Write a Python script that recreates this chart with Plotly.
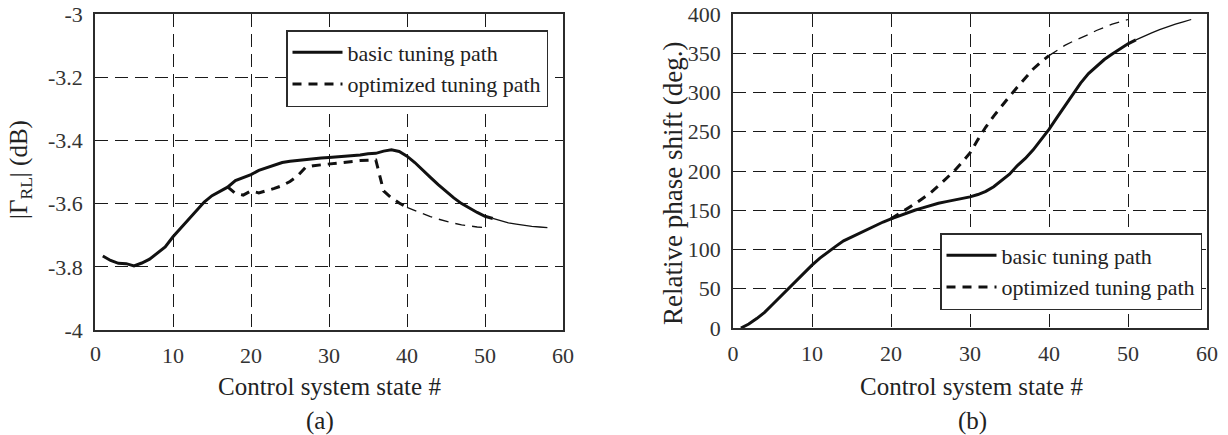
import plotly.graph_objects as go

# ---- data -------------------------------------------------------------
state_basic = list(range(1, 59))
gamma_basic = [
    -3.766, -3.780, -3.789, -3.790, -3.797, -3.788, -3.776, -3.757, -3.737, -3.705,
    -3.678, -3.650, -3.621, -3.595, -3.575, -3.562, -3.548, -3.527, -3.517, -3.508,
    -3.495, -3.487, -3.477, -3.470, -3.466, -3.463, -3.460, -3.458, -3.456, -3.454,
    -3.452, -3.450, -3.449, -3.446, -3.442, -3.441, -3.434, -3.430, -3.435, -3.450,
    -3.470, -3.492, -3.517, -3.540, -3.562, -3.582, -3.600, -3.615, -3.628, -3.640,
    -3.647, -3.655, -3.661, -3.665, -3.669, -3.672, -3.674, -3.676,
]
state_opt_a = list(range(17, 51))
gamma_opt = [
    -3.547, -3.568, -3.573, -3.560, -3.566, -3.560, -3.552, -3.543, -3.530, -3.512,
    -3.485, -3.480, -3.477, -3.475, -3.472, -3.469, -3.466, -3.464, -3.463, -3.462,
    -3.560, -3.582, -3.598, -3.612, -3.622, -3.632, -3.641, -3.649, -3.656, -3.662,
    -3.667, -3.671, -3.674, -3.676,
]

phase_basic = [
    0, 5, 12, 20, 30, 40, 51, 61, 71, 80,
    89, 97, 104, 111, 116, 121, 126, 131, 135, 139,
    143, 146, 150, 153, 156, 159, 161, 163, 165, 167,
    170, 174, 180, 188, 196, 207, 216, 227, 240, 253,
    268, 283, 298, 312, 324, 333, 342, 349, 356, 362,
    367, 372, 376, 380, 384, 387, 390, 393,
]
state_opt_b = list(range(20, 51))
phase_opt = [
    139, 145, 151, 158, 165, 172, 181, 190, 200, 211,
    223, 240, 256, 270, 283, 295, 307, 319, 330, 339,
    347, 354, 360, 365, 369, 374, 379, 383, 387, 390,
    393,
]

x_ticks = [0, 10, 20, 30, 40, 50, 60]
gamma_ticks = [-4, -3.8, -3.6, -3.4, -3.2, -3]
gamma_ticktext = ["-4", "-3.8", "-3.6", "-3.4", "-3.2", "-3"]
phase_ticks = [0, 50, 100, 150, 200, 250, 300, 350, 400]

# last state drawn with the heavy stroke for each path
BASIC_HEAVY_END = 51
OPT_HEAVY_END = 40

FONT = "Liberation Serif"
INK = "#111111"
FRAME = "#2b2b2b"
LABEL = "#333333"
W, H = 1228, 435


def split(xs, ys, end):
    i = xs.index(end) + 1
    return (xs[:i], ys[:i]), (xs[i - 1:], ys[i - 1:])


fig = go.Figure()


def add_paths(xs_b, ys_b, xs_o, ys_o, xa, ya, legend):
    (hb, tb) = split(xs_b, ys_b, BASIC_HEAVY_END)
    (ho, to) = split(xs_o, ys_o, OPT_HEAVY_END)
    fig.add_trace(go.Scatter(x=hb[0], y=hb[1], mode="lines", name="basic tuning path",
                             line=dict(color=INK, width=3), xaxis=xa, yaxis=ya,
                             legend=legend))
    fig.add_trace(go.Scatter(x=tb[0], y=tb[1], mode="lines", showlegend=False,
                             line=dict(color=INK, width=1.3), xaxis=xa, yaxis=ya))
    fig.add_trace(go.Scatter(x=ho[0], y=ho[1], mode="lines", name="optimized tuning path",
                             line=dict(color=INK, width=3, dash="9px,7px"),
                             xaxis=xa, yaxis=ya, legend=legend))
    fig.add_trace(go.Scatter(x=to[0], y=to[1], mode="lines", showlegend=False,
                             line=dict(color=INK, width=1.3, dash="10px,7px"),
                             xaxis=xa, yaxis=ya))


add_paths(state_basic, gamma_basic, state_opt_a, gamma_opt, "x", "y", "legend")
add_paths(state_basic, phase_basic, state_opt_b, phase_opt, "x2", "y2", "legend2")

# blank outer ticks set the gap between the frame and the value labels;
# the dashed grid starts right at the frame, like short inner ticks
axis_common = dict(
    showline=True, linecolor=FRAME, linewidth=1.5, mirror=True,
    showgrid=True, gridcolor="#1a1a1a", gridwidth=1.3, griddash="13px,7px",
    zeroline=False, automargin=False,
    ticks="outside", tickcolor="white", tickwidth=1,
    tickfont=dict(family=FONT, size=22, color=LABEL),
)
x_common = dict(axis_common, ticklen=5)
y_common = dict(axis_common, ticklen=6)

legend_common = dict(
    xanchor="right", yanchor="top", bgcolor="white", bordercolor=FRAME,
    borderwidth=1.5, font=dict(family=FONT, size=22, color="#222222"),
    tracegroupgap=0, itemwidth=50,
)

fig.update_layout(
    width=W, height=H, autosize=False,
    margin=dict(l=0, r=0, t=0, b=0, pad=0, autoexpand=False),
    paper_bgcolor="white", plot_bgcolor="white",
    # the corner label of the left panel is written separately below
    xaxis=dict(domain=[95 / W, 563 / W], range=[0, 60], tickvals=x_ticks[1:],
               anchor="y", **x_common),
    yaxis=dict(domain=[1 - 330 / H, 1 - 14 / H], range=[-4, -3], tickvals=gamma_ticks,
               ticktext=gamma_ticktext, anchor="x", **y_common),
    xaxis2=dict(domain=[733 / W, 1207 / W], range=[0, 60], tickvals=x_ticks,
                anchor="y2", **x_common),
    yaxis2=dict(domain=[1 - 328 / H, 1 - 14 / H], range=[0, 400], tickvals=phase_ticks,
                anchor="x2", **y_common),
    legend=dict(x=548 / W, y=1 - 30 / H, **legend_common),
    legend2=dict(x=1202 / W, y=1 - 233 / H, **legend_common),
)

# "0" state label at the lower-left corner of panel (a)
fig.add_annotation(x=x_ticks[0], xref="x", y=1 - 353 / H, yref="paper",
                   text=str(x_ticks[0]), showarrow=False, xanchor="center",
                   yanchor="middle", font=dict(family=FONT, size=22, color=LABEL))

title_font = dict(family=FONT, size=25, color="#222222")
annotations = [
    dict(text="Control system state #", x=329 / W, y=1 - 386 / H, font=title_font),
    dict(text="Control system state #", x=971 / W, y=1 - 386 / H, font=title_font),
    dict(text="(a)", x=320 / W, y=1 - 421 / H, font=title_font),
    dict(text="(b)", x=972 / W, y=1 - 421 / H, font=title_font),
    dict(text="|Γ<sub>RL</sub>| (dB)", x=21 / W, y=1 - 170 / H, textangle=-90,
         font=dict(title_font, size=25)),
    dict(text="Relative phase shift (deg.)", x=673 / W, y=1 - 184 / H, textangle=-90,
         font=dict(title_font, size=27)),
]
for a in annotations:
    fig.add_annotation(xref="paper", yref="paper", showarrow=False,
                       xanchor="center", yanchor="middle", **a)

fig.write_html("out.html")
